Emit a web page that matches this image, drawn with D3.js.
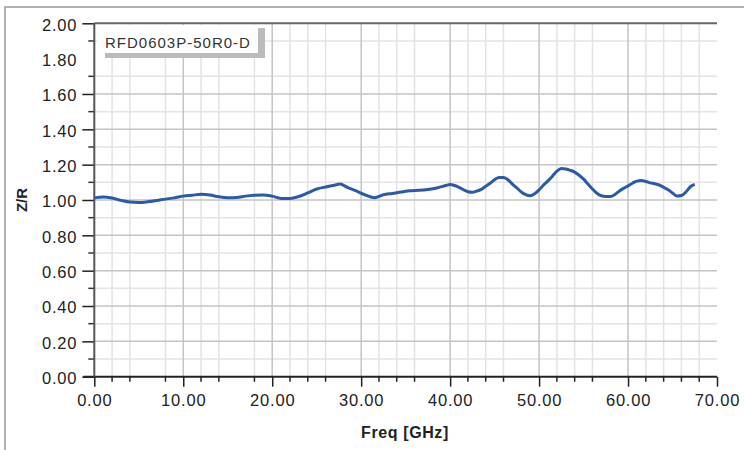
<!DOCTYPE html>
<html>
<head>
<meta charset="utf-8">
<script src="https://cdn.jsdelivr.net/npm/d3@7"></script>
<style>
  body { margin: 0; background: #fff; }
  svg { display: block; font-family: "Liberation Sans", Arial, sans-serif; }
</style>
</head>
<body>
<script>
// Data
const freqGHz = [0, 1, 2, 3, 4, 5, 6, 7, 8, 9, 10, 11, 12, 13, 14, 15, 16, 17, 18, 19, 20, 21, 22, 23, 24, 25, 26, 27, 27.6,
    28.5, 29.5, 30.5, 31.5, 32.5, 33.5, 34.5, 35.5, 36.5, 37.5, 38.5, 39.5, 40, 40.5, 41, 41.5, 42, 42.5, 43, 43.5, 44, 44.5,
    45, 45.5, 46, 46.5, 47, 47.5, 48, 48.5, 49, 49.5, 50, 50.5, 51, 51.5, 52, 52.5, 53, 53.5, 54, 54.5, 55, 55.5, 56, 56.5,
    57, 57.5, 58, 58.5, 59, 59.5, 60, 60.5, 61, 61.5, 62, 62.5, 63, 63.5, 64, 64.5, 65, 65.5, 66, 66.5, 67, 67.5];
const zOverR = [1.012, 1.017, 1.011, 0.998, 0.988, 0.986, 0.990, 0.997, 1.005, 1.012, 1.022, 1.027, 1.032, 1.028, 1.018,
    1.013, 1.014, 1.022, 1.027, 1.029, 1.022, 1.009, 1.009, 1.020, 1.040, 1.062, 1.074, 1.084, 1.090,
    1.070, 1.050, 1.028, 1.013, 1.030, 1.037, 1.045, 1.052, 1.055, 1.060, 1.068, 1.082, 1.088, 1.082, 1.072, 1.058, 1.047,
    1.044, 1.050, 1.060, 1.078, 1.095, 1.115, 1.128, 1.127, 1.115, 1.090, 1.068, 1.045, 1.030, 1.024, 1.035, 1.057, 1.085,
    1.108, 1.135, 1.163, 1.178, 1.175, 1.168, 1.158, 1.140, 1.118, 1.090, 1.062, 1.038, 1.024, 1.020, 1.020, 1.030, 1.050,
    1.066, 1.080, 1.095, 1.107, 1.110, 1.105, 1.097, 1.092, 1.085, 1.072, 1.058, 1.040, 1.022, 1.025, 1.045, 1.075, 1.088];

const xMajorTicks = [0, 10, 20, 30, 40, 50, 60, 70];
const xMinorTicks = [2, 4, 8, 12, 14, 18, 22, 24, 26, 32, 34, 36, 42, 44, 46, 52, 54, 56, 62, 64, 66, 68];
const yTickLabels = [0, 0.2, 0.4, 0.6, 0.8, 1.0, 1.2, 1.4, 1.6, 1.8, 2.0];
const yMajorGrid = [0.2, 0.4, 0.6, 0.8, 1.0, 1.2, 1.4, 1.6];
const yMinorTicks = [0.1, 0.3, 0.5, 0.7, 0.9, 1.1, 1.3, 1.5, 1.7, 1.9];
const seriesName = 'RFD0603P-50R0-D';

const W = 744, H = 450;
const plot = { left: 94.3, right: 717, top: 23.3, bottom: 376.7 };

const svg = d3.select('body')
    .append('svg')
    .attr('width', W)
    .attr('height', H);

// Cadre extérieur (haut et gauche)
svg.append('path')
    .attr('d', `M5,${H} V7 H${W}`)
    .attr('fill', 'none')
    .attr('stroke', '#999')
    .attr('stroke-width', 1.5);

const x = d3.scaleLinear().domain([0, 70]).range([plot.left, plot.right]);
const y = d3.scaleLinear().domain([0, 2]).range([plot.bottom, plot.top]);

// Grille
const grid = svg.append('g');
grid.selectAll('.vminor')
    .data(xMinorTicks)
    .join('line')
    .attr('x1', d => x(d)).attr('x2', d => x(d))
    .attr('y1', plot.top).attr('y2', plot.bottom)
    .attr('stroke', '#e3e3e3').attr('stroke-width', 1.5);
grid.selectAll('.hminor')
    .data(yMinorTicks)
    .join('line')
    .attr('x1', plot.left).attr('x2', plot.right)
    .attr('y1', d => y(d)).attr('y2', d => y(d))
    .attr('stroke', '#e3e3e3').attr('stroke-width', 1.5);
grid.selectAll('.vmajor')
    .data(xMajorTicks.slice(1, -1))
    .join('line')
    .attr('x1', d => x(d)).attr('x2', d => x(d))
    .attr('y1', plot.top).attr('y2', plot.bottom)
    .attr('stroke', '#c4c4c4').attr('stroke-width', 1.5);
grid.selectAll('.hmajor')
    .data(yMajorGrid)
    .join('line')
    .attr('x1', plot.left).attr('x2', plot.right)
    .attr('y1', d => y(d)).attr('y2', d => y(d))
    .attr('stroke', '#c4c4c4').attr('stroke-width', 1.5);

// Bordure du haut
svg.append('line')
    .attr('x1', plot.left).attr('x2', plot.right)
    .attr('y1', plot.top).attr('y2', plot.top)
    .attr('stroke', '#666').attr('stroke-width', 2);

// Axe X
const xAxis = svg.append('g')
    .attr('transform', `translate(0, ${plot.bottom})`)
    .call(d3.axisBottom(x).tickValues(xMajorTicks).tickSize(10).tickPadding(8).tickFormat(d3.format('.2f')));
xAxis.append('g')
    .selectAll('line')
    .data(xMinorTicks)
    .join('line')
    .attr('x1', d => x(d)).attr('x2', d => x(d))
    .attr('y1', 0).attr('y2', 5)
    .attr('stroke', '#222').attr('stroke-width', 1.5);

// Axe Y
const yAxis = svg.append('g')
    .attr('transform', `translate(${plot.left}, 0)`)
    .call(d3.axisLeft(y).tickValues(yTickLabels).tickSize(12).tickPadding(5).tickFormat(d3.format('.2f')));
yAxis.selectAll('.tick')
    .filter(d => d === 1.8)
    .select('line').remove();
yAxis.append('g')
    .selectAll('line')
    .data(yMinorTicks)
    .join('line')
    .attr('x1', -6).attr('x2', 0)
    .attr('y1', d => y(d)).attr('y2', d => y(d))
    .attr('stroke', '#333').attr('stroke-width', 1.5);

svg.selectAll('.domain').remove();
svg.selectAll('.tick line').attr('stroke-width', 1.5).attr('stroke', '#222');
svg.selectAll('.tick text')
    .attr('font-size', 16.5)
    .attr('letter-spacing', 0.8)
    .attr('fill', '#222');
yAxis.selectAll('.tick text').attr('dy', '0.42em');

// Lignes des axes
svg.append('line')
    .attr('x1', plot.left - 11).attr('x2', plot.right)
    .attr('y1', plot.bottom).attr('y2', plot.bottom)
    .attr('stroke', '#222').attr('stroke-width', 2);
svg.append('line')
    .attr('x1', plot.left).attr('x2', plot.left)
    .attr('y1', plot.top).attr('y2', plot.bottom)
    .attr('stroke', '#555').attr('stroke-width', 2);

// Courbe
const line = d3.line()
    .x((d, i) => x(freqGHz[i]))
    .y(d => y(d))
    .curve(d3.curveMonotoneX);

svg.append('path')
    .datum(zOverR)
    .attr('d', line)
    .attr('fill', 'none')
    .attr('stroke', '#2a5aa8')
    .attr('stroke-width', 3);

// Légende
const legend = svg.append('g');
legend.append('rect')
    .attr('x', 97).attr('y', 25)
    .attr('width', 161).attr('height', 28)
    .attr('fill', '#fff');
legend.append('rect')
    .attr('x', 105).attr('y', 53)
    .attr('width', 160).attr('height', 5)
    .attr('fill', '#bcbcbc');
legend.append('rect')
    .attr('x', 258).attr('y', 28)
    .attr('width', 7).attr('height', 30)
    .attr('fill', '#bcbcbc');
legend.append('text')
    .attr('x', 105).attr('y', 48)
    .attr('font-size', 15)
    .attr('letter-spacing', 1)
    .attr('fill', '#333')
    .text(seriesName);

// Titres des axes
svg.append('text')
    .attr('text-anchor', 'middle')
    .attr('x', 405).attr('y', 438)
    .attr('font-size', 16)
    .attr('font-weight', 'bold')
    .attr('letter-spacing', 0.6)
    .attr('fill', '#222')
    .text('Freq [GHz]');

svg.append('text')
    .attr('text-anchor', 'middle')
    .attr('transform', 'translate(27, 200) rotate(-90)')
    .attr('font-size', 15)
    .attr('font-weight', 'bold')
    .attr('fill', '#222')
    .text('Z/R');
</script>
</body>
</html>
